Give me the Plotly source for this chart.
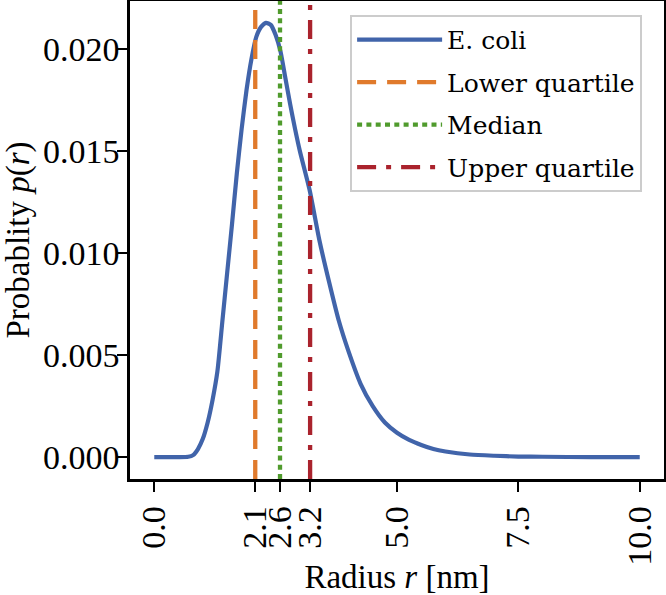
import plotly.graph_objects as go

# ---- data ----
radius = [0.0, 0.5, 0.7, 0.8, 0.9, 1.0, 1.1, 1.2, 1.3, 1.4, 1.5, 1.6, 1.7, 1.8,
          1.9, 2.0, 2.1, 2.2, 2.3, 2.4, 2.5, 2.6, 2.7, 2.8, 2.9, 3.0, 3.2, 3.4,
          3.6, 3.8, 4.0, 4.25, 4.5, 4.75, 5.0, 5.25, 5.5, 5.75, 6.0, 6.5, 7.0,
          7.5, 8.0, 9.0, 10.0]
prob = [0.0, 0.0, 0.00002, 0.0001, 0.0004, 0.0009, 0.0017, 0.0028, 0.0042,
        0.0066, 0.0090, 0.0114, 0.0139, 0.0161, 0.0180, 0.0195, 0.0206, 0.0211,
        0.0213, 0.0212, 0.0207, 0.0199, 0.0186, 0.0173, 0.0161, 0.0150, 0.0131,
        0.01065, 0.0086, 0.0067, 0.0052, 0.0036, 0.0025, 0.0017, 0.0012,
        0.00085, 0.0006, 0.0004, 0.00028, 0.00013, 0.00007, 0.00003, 0.00002,
        0.0, 0.0]

quartile_names = ["Lower quartile", "Median", "Upper quartile"]
quartile_values = [2.08, 2.59, 3.21]
quartile_labels = ["2.1", "2.6", "3.2"]

x_tick_values = [0.0, 5.0, 7.5, 10.0]
x_tick_labels = ["0.0", "5.0", "7.5", "10.0"]
y_tick_values = [0.0, 0.005, 0.010, 0.015, 0.020]
y_tick_labels = ["0.000", "0.005", "0.010", "0.015", "0.020"]

# ---- styling ----
FONT = "Liberation Serif"
TICK_FS = 34
TITLE_FS = 33
LEG_FONT = "DejaVu Serif"
LEG_FS = 25
colors = {"curve": "#4164AA", "Lower quartile": "#E07A2C",
          "Median": "#509B2D", "Upper quartile": "#AA232D"}
dashes = {"Lower quartile": "19px,11px", "Median": "5px,4.3px",
          "Upper quartile": "19px,10px,5px,10px"}

x_range = [-0.5, 10.5]
y_range = [-0.00107, 0.02237]

fig = go.Figure()
fig.add_trace(go.Scatter(x=radius, y=prob, mode="lines", name="E. coli",
                         legendgroup="g0",
                         line=dict(color=colors["curve"], width=4.2,
                                   shape="spline", smoothing=0.6)))
for i, (name, q) in enumerate(zip(quartile_names, quartile_values)):
    fig.add_trace(go.Scatter(x=[q, q], y=y_range, mode="lines", name=name,
                             legendgroup=f"g{i+1}",
                             line=dict(color=colors[name], width=4.3,
                                       dash=dashes[name])))

all_ticks = x_tick_values[:1] + quartile_values + x_tick_values[1:]
all_labels = x_tick_labels[:1] + quartile_labels + x_tick_labels[1:]

fig.update_layout(
    width=666, height=595,
    margin=dict(l=130, r=2, t=1, b=116, autoexpand=False),
    paper_bgcolor="white", plot_bgcolor="white",
    font=dict(family=FONT, size=TICK_FS, color="black"),
    showlegend=True,
    legend=dict(x=0.959, y=0.971, xanchor="right", yanchor="top",
                bgcolor="white", bordercolor="#cccccc", borderwidth=2,
                font=dict(family=LEG_FONT, size=LEG_FS), itemwidth=85,
                tracegroupgap=7),
)
fig.update_xaxes(range=x_range, tickmode="array", tickvals=all_ticks,
                 ticktext=all_labels, tickangle=-90, ticks="outside",
                 ticklen=10, tickwidth=2, tickcolor="black",
                 showline=True, linecolor="black", linewidth=2.5, mirror=True,
                 showgrid=False, zeroline=False, automargin=False,
                 ticklabelstandoff=1,
                 title=dict(text="Radius <i>r</i> [nm]", standoff=6,
                            font=dict(family=FONT, size=TITLE_FS)),
                 tickfont=dict(family=FONT, size=TICK_FS))
fig.update_yaxes(range=y_range, tickmode="array", tickvals=y_tick_values,
                 ticktext=y_tick_labels, ticks="outside",
                 ticklen=10, tickwidth=2, tickcolor="black",
                 showline=True, linecolor="black", linewidth=2.5, mirror=True,
                 showgrid=False, zeroline=False, automargin=False,
                 ticklabelstandoff=-9,
                 title=dict(text="Probablity <i>p</i>(<i>r</i>)", standoff=21,
                            font=dict(family=FONT, size=TITLE_FS)),
                 tickfont=dict(family=FONT, size=TICK_FS))

fig.write_html("out.html", config={"displayModeBar": False},
               post_script="document.body.style.margin='0px';")
